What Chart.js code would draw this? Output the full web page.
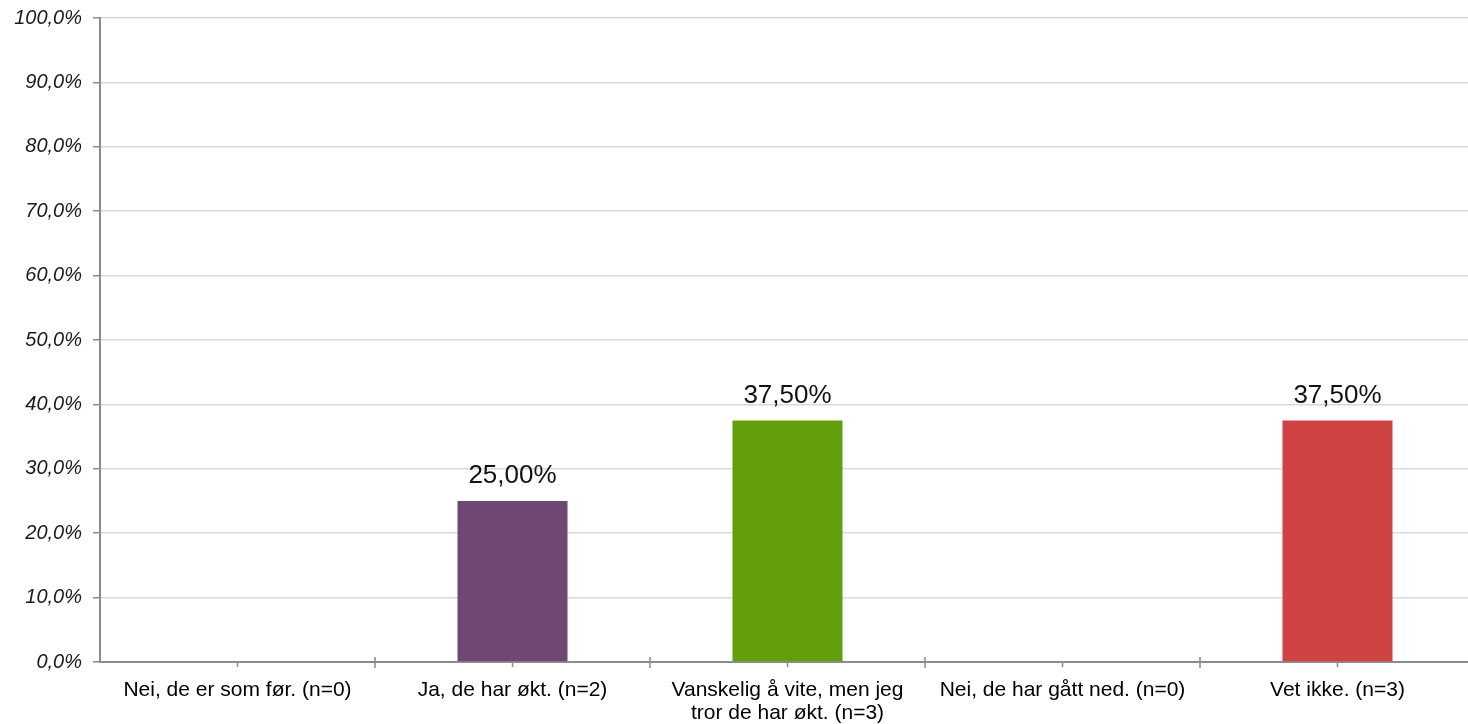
<!DOCTYPE html>
<html>
<head>
<meta charset="utf-8">
<script src="https://cdn.jsdelivr.net/npm/chart.js@4/dist/chart.umd.min.js"></script>
<style>
  html, body { margin: 0; padding: 0; background: #fff; overflow: hidden; }
  #wrap { width: 1480px; height: 724px; }
</style>
</head>
<body>
<div id="wrap"><canvas id="chart" width="1480" height="724"></canvas></div>
<script>
    var categories = [
        'Nei, de er som før. (n=0)',
        'Ja, de har økt. (n=2)',
        ['Vanskelig å vite, men jeg', 'tror de har økt. (n=3)'],
        'Nei, de har gått ned. (n=0)',
        'Vet ikke. (n=3)'
    ];
    var percents = [0, 25, 37.5, 0, 37.5];
    var barColors = ['#6e4772', '#6e4772', '#639e0c', '#d04343', '#d04343'];

    function pct(v, digits) {
        return v.toFixed(digits).replace('.', ',') + '%';
    }

    // tick marks on the category axis: long ones between groups, short ones under each group
    var categoryTicks = {
        id: 'categoryTicks',
        afterDraw: function(chart) {
            var x = chart.scales.x;
            var ctx = chart.ctx;
            var y0 = x.top;
            var half = (x.getPixelForValue(1) - x.getPixelForValue(0)) / 2;
            ctx.save();
            ctx.strokeStyle = '#8c8c8c';
            ctx.lineWidth = 1.5;
            ctx.beginPath();
            for (var i = 0; i < categories.length; i++) {
                var c = x.getPixelForValue(i);
                ctx.moveTo(c + half, y0 - 5);
                ctx.lineTo(c + half, y0 + 6);
                ctx.moveTo(c, y0);
                ctx.lineTo(c, y0 + 5);
            }
            ctx.stroke();
            ctx.restore();
        }
    };

    // value labels above non-empty bars
    var valueLabels = {
        id: 'valueLabels',
        afterDatasetsDraw: function(chart) {
            var ctx = chart.ctx;
            var meta = chart.getDatasetMeta(0);
            ctx.save();
            ctx.font = '26px "Liberation Sans", Arial, sans-serif';
            ctx.fillStyle = '#111';
            ctx.textAlign = 'center';
            ctx.textBaseline = 'alphabetic';
            meta.data.forEach(function(bar, i) {
                if (!percents[i]) return;
                ctx.fillText(pct(percents[i], 2), bar.x, bar.y - 18);
            });
            ctx.restore();
        }
    };

    var ctx = document.getElementById('chart').getContext('2d');

    var barChart = new Chart(ctx, {
        type: 'bar',
        data: {
            labels: categories,
            datasets: [{
                data: percents,
                backgroundColor: barColors,
                borderWidth: 0,
                categoryPercentage: 1,
                barPercentage: 0.4
            }]
        },
        options: {
            responsive: false,
            animation: false,
            layout: { padding: { top: 18, right: 5, left: 0, bottom: 0 } },
            plugins: {
                legend: { display: false },
                tooltip: { enabled: false }
            },
            scales: {
                x: {
                    afterFit: function(scale) { scale.height = 62; },
                    grid: { display: false },
                    border: { display: true, color: '#8c8c8c', width: 2 },
                    ticks: {
                        color: '#000',
                        padding: 9,
                        maxRotation: 0,
                        autoSkip: false,
                        font: { family: '"Liberation Sans", Arial, sans-serif', size: 21, lineHeight: 1.1 }
                    }
                },
                y: {
                    min: 0,
                    max: 100,
                    afterFit: function(scale) { scale.width = 100; },
                    grid: {
                        color: '#d9d9d9',
                        lineWidth: 1.5,
                        tickColor: '#8c8c8c',
                        tickLength: 7
                    },
                    border: { color: '#8c8c8c', width: 2 },
                    ticks: {
                        stepSize: 10,
                        padding: 11,
                        color: '#1a1a1a',
                        font: { family: '"Liberation Sans", Arial, sans-serif', size: 20, style: 'italic', lineHeight: 0.6 },
                        callback: function(v) { return pct(v, 1); }
                    }
                }
            }
        },
        plugins: [categoryTicks, valueLabels]
    });
</script>
</body>
</html>
